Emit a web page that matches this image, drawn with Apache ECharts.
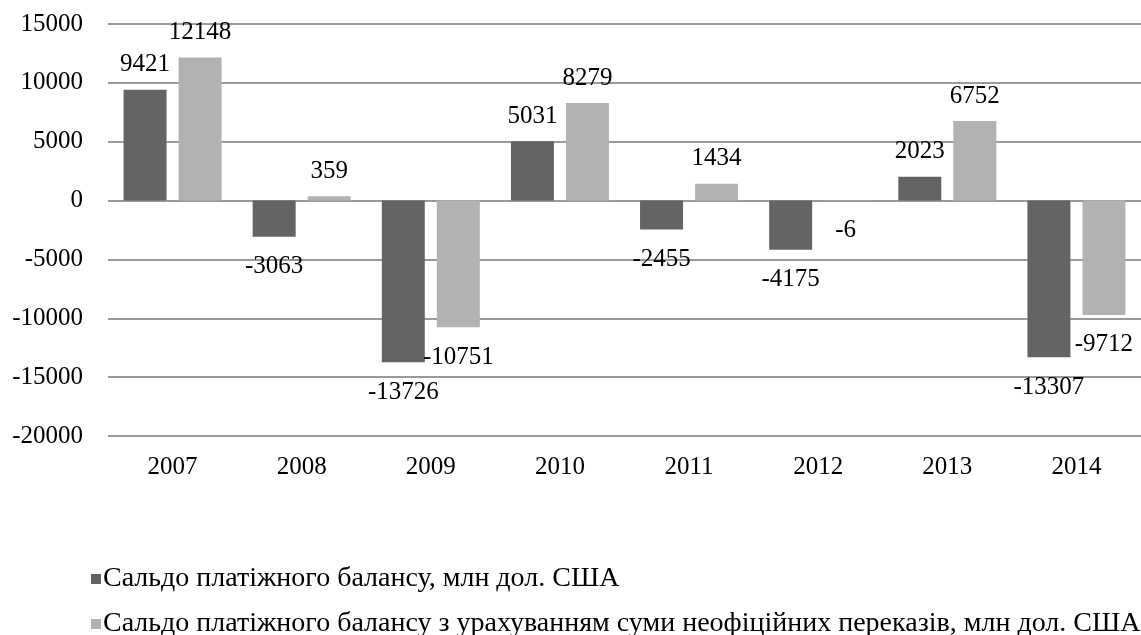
<!DOCTYPE html>
<html>
<head>
<meta charset="utf-8">
<script src="https://cdn.jsdelivr.net/npm/echarts@6/dist/echarts.min.js"></script>
<style>
  html, body { margin: 0; padding: 0; background: #fff; }
  #chart { width: 1141px; height: 635px; }
</style>
</head>
<body>
<div id="chart"></div>
<script>
const years = ["2007", "2008", "2009", "2010", "2011", "2012", "2013", "2014"]
const balance = [9421, -3063, -13726, 5031, -2455, -4175, 2023, -13307]
const balanceAdj = [12148, 359, -10751, 8279, 1434, -6, 6752, -9712]
const seriesNames = [
  "Сальдо платіжного балансу, млн дол. США",
  "Сальдо платіжного балансу з урахуванням суми неофіційних переказів, млн дол. США",
]

const font = "'Liberation Serif', 'Times New Roman', serif"
const fontSize = 25

// Excel-style labels: above positive bars, below negative ones
const withLabels = (values) =>
  values.map((v) => ({
    value: v,
    label: v < 0 ? { position: "bottom", distance: 18 } : { position: "top", distance: 13 },
  }))

const legendItem = (name, top) => ({
  left: 86,
  top: top,
  itemWidth: 10,
  itemHeight: 10,
  icon: "rect",
  data: [name],
  textStyle: { fontFamily: font, fontSize: 28, color: "#000", padding: [0, 0, 0, -3] },
})

const myChart = echarts.init(document.getElementById("chart"))
const option = {
  animation: false,
  textStyle: { fontFamily: font },
  grid: { left: 108, right: 0, top: 24, bottom: 199, containLabel: false },
  legend: [legendItem(seriesNames[0], 560), legendItem(seriesNames[1], 605)],
  xAxis: {
    type: "category",
    data: years,
    axisLine: { show: false, onZero: false },
    axisTick: { show: false },
    axisLabel: { fontFamily: font, fontSize: fontSize, color: "#000", margin: 19 },
  },
  yAxis: {
    type: "value",
    min: -20000,
    max: 15000,
    interval: 5000,
    axisLine: { show: false },
    axisTick: { show: false },
    axisLabel: {
      fontFamily: font,
      fontSize: fontSize,
      color: "#000",
      margin: 25,
      formatter: (v) => String(v),
    },
    splitLine: { lineStyle: { color: "#9a9a9a", width: 2 } },
  },
  series: [
    {
      name: seriesNames[0],
      type: "bar",
      barWidth: 43,
      barGap: "28%",
      itemStyle: { color: "#646464" },
      label: { show: true, fontFamily: font, fontSize: fontSize, color: "#000", lineHeight: 24 },
      data: withLabels(balance),
    },
    {
      name: seriesNames[1],
      type: "bar",
      barWidth: 43,
      itemStyle: { color: "#b2b2b2" },
      label: { show: true, fontFamily: font, fontSize: fontSize, color: "#000", lineHeight: 24 },
      data: withLabels(balanceAdj),
    },
  ],
}
myChart.setOption(option)
</script>
</body>
</html>
